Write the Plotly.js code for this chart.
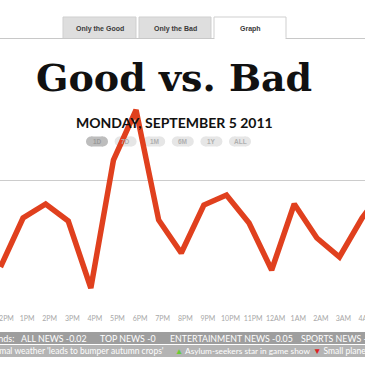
<!DOCTYPE html>
<html>
<head>
<meta charset="utf-8">
<script src="https://cdn.plot.ly/plotly-3.0.1.min.js"></script>
<style>html,body{margin:0;padding:0;background:#fff;}#chart{width:365px;height:365px;}</style>
</head>
<body>
<div id="chart"></div>
<script>
// ---- data ----
var hours = ["12PM","1PM","2PM","3PM","4PM","5PM","6PM","7PM","8PM","9PM","10PM","11PM","12AM","1AM","2AM","3AM","4AM","5AM"];
var mood  = [0.165,0.41,0.48,0.395,0.06,0.70,0.95,0.40,0.235,0.475,0.525,0.385,0.15,0.48,0.31,0.215,0.41,0.56];
var tabLabels = ["Only the Good","Only the Bad","Graph"];
var rangeButtons = ["1D","7D","1M","6M","1Y","ALL"];
var trendNames = ["ALL NEWS","TOP NEWS","ENTERTAINMENT NEWS","SPORTS NEWS"];
var trendValues = ["-0.02","-0","-0.05","-0"];
var headlines = ["Abnormal weather 'leads to bumper autumn crops'","Asylum-seekers star in game show","Small plane crash"];
var dateText = "MONDAY, SEPTEMBER 5 2011";
var titleText = "Good vs. Bad";

// ---- helpers (figure pixel -> paper, paper = plot area) ----
var W = 365, H = 365, MT = 100, MB = 65;
var PH = H - MT - MB;
function px(x){ return x / W; }
function py(y){ return (H - MB - y) / PH; }

var shapes = [], annotations = [];
function rect(x0,y0,x1,y1,fill,line,layer){
  shapes.push({type:'rect',xref:'paper',yref:'paper',x0:px(x0),x1:px(x1),y0:py(y1),y1:py(y0),
    fillcolor:fill,line:line?{color:line,width:1}:{width:0},layer:layer||'below'});
}
function circ(cx,cy,r,fill){
  shapes.push({type:'circle',xref:'paper',yref:'paper',x0:px(cx-r),x1:px(cx+r),y0:py(cy+r),y1:py(cy-r),
    fillcolor:fill,line:{width:0},layer:'below'});
}
function text(t,x,y,opts){
  annotations.push({text:t,xref:'paper',yref:'paper',x:px(x),y:py(y),showarrow:false,
    xanchor:opts.xanchor||'center',yanchor:'middle',
    font:{family:opts.family||'Lato',size:opts.size||8,color:opts.color||'#333',weight:opts.weight||'normal'}});
}

// tabs
var tabX = [[63,136],[139,211],[214,286]];
for (var i=0;i<tabLabels.length;i++){
  var g = i<2;
  rect(tabX[i][0],17,tabX[i][1],38.5,g?'#dedede':'#ffffff','#cfcfcf');
  text(tabLabels[i],(tabX[i][0]+tabX[i][1])/2,29,{family:'Liberation Sans',size:7,color:'#3a3a3a',weight:'bold'});
}
shapes.push({type:'line',xref:'paper',yref:'paper',x0:0,x1:1,y0:py(38.5),y1:py(38.5),line:{color:'#c8c8c8',width:1},layer:'below'});
rect(214.5,37.5,285.5,39.5,'#ffffff',null);

// title & date
text(titleText,174,77,{family:'DejaVu Serif',size:38,color:'#111',weight:'bold'});
text(dateText,174.5,122,{family:'Lato',size:14,color:'#111',weight:'bold'});

// range buttons
for (var j=0;j<rangeButtons.length;j++){
  var cx = 97 + j*28.6, cy = 141.5, fill = j===0?'#bdbdbd':'#e6e6e6';
  rect(cx-6,cy-5,cx+6,cy+5,fill,null);
  circ(cx-6,cy,5,fill); circ(cx+6,cy,5,fill);
  text(rangeButtons[j],cx,cy,{family:'Liberation Sans',size:6.5,color:j===0?'#9a9a9a':'#b0b0b0',weight:'bold'});
}

// bottom bands
rect(0,332,365,344,'#9e9e9e',null);
rect(0,345,365,357,'#b4b4b4',null);
text("Trends:",16,338,{xanchor:'right',size:9,color:'#ffffff'});
var trendX = [19,98,168,299];
for (var k=0;k<trendNames.length;k++){
  text(trendNames[k]+" "+trendValues[k],trendX[k],338,{xanchor:'left',size:8.8,color:'#ffffff'});
}
text(headlines[0],166,351,{xanchor:'right',size:8.5,color:'#ffffff'});
text('<span style="color:#66cc33">▲</span> '+headlines[1],173,351,{xanchor:'left',size:8.3,color:'#ffffff'});
text('<span style="color:#dd2222">▼</span> '+headlines[2],311,351,{xanchor:'left',size:8.5,color:'#ffffff'});

var trace = {
  x: hours, y: mood, type:'scatter', mode:'lines',
  line:{color:'#e0401e',width:5.5,shape:'linear'},
  hoverinfo:'skip', cliponaxis:true
};

var layout = {
  width:W, height:H,
  margin:{l:0,r:0,t:MT,b:MB,pad:0},
  paper_bgcolor:'#ffffff', plot_bgcolor:'rgba(0,0,0,0)',
  showlegend:false,
  xaxis:{type:'category',range:[-0.02,16.13],showgrid:false,zeroline:false,showline:false,
    ticks:'',tickfont:{family:'Lato',size:7,color:'#a8a8a8'},ticklabelshift:4,ticklabelstandoff:13,
    fixedrange:true},
  yaxis:{range:[0,1],tickvals:[0.6],showticklabels:false,showgrid:true,gridcolor:'#cccccc',gridwidth:1,
    zeroline:false,showline:false,ticks:'',fixedrange:true},
  shapes:shapes,
  annotations:annotations
};

Plotly.newPlot('chart',[trace],layout,{displayModeBar:false,staticPlot:true});
</script>
</body>
</html>
